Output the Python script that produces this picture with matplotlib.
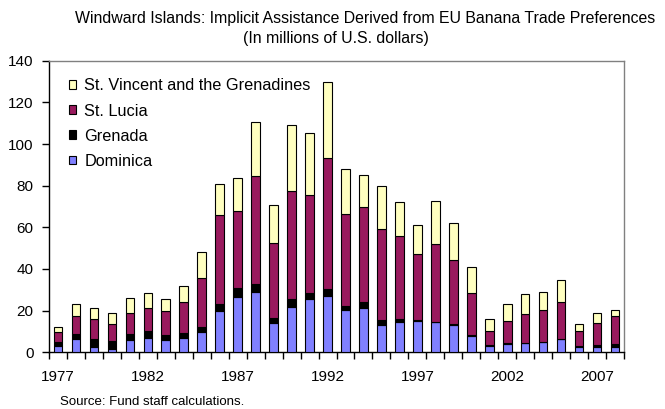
import matplotlib
matplotlib.use("Agg")
import matplotlib.pyplot as plt
from matplotlib.patches import Patch
from matplotlib.ticker import FixedLocator, NullFormatter
import numpy as np

plt.rcParams['font.family'] = ['Liberation Sans', 'DejaVu Sans']

years = list(range(1977, 2009))
dominica = [3.2, 6.2, 2.7, 1.7, 5.9, 7.0, 5.9, 7.0, 9.6, 19.7, 26.7, 28.8,
            13.9, 21.9, 25.4, 27.2, 20.5, 21.4, 13.3, 14.7, 15.2, 14.4,
            13.1, 7.7, 3.2, 4.0, 4.3, 4.8, 6.2, 2.4, 2.4, 2.5]
grenada = [1.9, 2.6, 3.5, 3.7, 2.7, 3.1, 2.4, 2.1, 2.7, 3.3, 4.0, 4.0,
           2.7, 3.5, 3.2, 3.2, 1.9, 2.7, 2.4, 1.1, 0.5, 0.3,
           0.3, 0.5, 0.3, 0.3, 0.2, 0.2, 0.2, 0.6, 1.0, 1.3]
st_lucia = [4.5, 8.8, 9.6, 8.0, 10.3, 11.2, 11.4, 14.9, 23.5, 42.8, 37.1, 52.0,
            35.7, 52.0, 46.9, 62.7, 44.0, 45.5, 43.3, 39.9, 31.5, 37.3,
            30.8, 20.1, 6.6, 10.9, 14.0, 15.3, 17.9, 7.1, 10.5, 13.5]
st_vincent = [2.7, 5.4, 5.3, 5.3, 7.2, 7.0, 5.7, 7.8, 12.5, 14.9, 15.9, 25.6,
              18.6, 31.6, 29.6, 36.5, 21.7, 15.4, 21.0, 16.5, 13.9, 20.5,
              17.9, 12.5, 5.9, 7.8, 9.3, 8.5, 10.6, 3.5, 5.0, 2.9]

series_names = ["Dominica", "Grenada", "St. Lucia", "St. Vincent and the Grenadines"]
series_values = [dominica, grenada, st_lucia, st_vincent]
colors = ["#8080FF", "#000000", "#991A5E", "#FFFFC0"]

W, H = 665, 409
fig = plt.figure(figsize=(W / 100, H / 100), dpi=100)
ax = fig.add_axes([49 / W, 1 - 352.3 / H, (624 - 49) / W, (352.3 - 60.7) / H])

x = np.arange(len(years))
bottom = np.zeros(len(years))
for name, vals, c in zip(series_names, series_values, colors):
    ax.bar(x, vals, width=0.48, bottom=bottom, color=c, edgecolor="black",
           linewidth=0.8, label=name, zorder=3)
    bottom += np.array(vals)

ax.set_xlim(-0.5, len(years) - 0.5)
ax.set_ylim(0, 140)
ax.set_yticks(range(0, 141, 20))

label_idx = [i for i, y in enumerate(years) if (y - 1977) % 5 == 0]
ax.set_xticks(label_idx)
ax.set_xticklabels([str(years[i]) for i in label_idx])
ax.xaxis.set_minor_locator(FixedLocator(np.arange(-0.5, len(years), 1.0)))
ax.xaxis.set_minor_formatter(NullFormatter())
ax.tick_params(axis="x", which="major", length=0, pad=13, labelsize=11)
ax.tick_params(axis="x", which="minor", length=5, width=1.0, direction="out")
ax.tick_params(axis="y", length=5, width=1.0, direction="out", pad=6, labelsize=11)

for side in ("top", "right"):
    ax.spines[side].set_color("#808080")
    ax.spines[side].set_linewidth(1.0)
for side in ("left", "bottom"):
    ax.spines[side].set_color("black")
    ax.spines[side].set_linewidth(1.0)

handles = [Patch(facecolor=c, edgecolor="black", linewidth=0.8)
           for c in colors][::-1]
labels = series_names[::-1]
ax.legend(handles, labels, loc="upper left",
          bbox_to_anchor=(69 / W, 1 - 78.5 / H), bbox_transform=fig.transFigure,
          frameon=False, fontsize=11.7, handlelength=0.45, handleheight=0.45,
          handletextpad=0.5, labelspacing=0.62, borderpad=0, borderaxespad=0)

fig.text(365 / W, 1 - 18 / H,
         "Windward Islands: Implicit Assistance Derived from EU Banana Trade Preferences",
         ha="center", va="center", fontsize=11.4)
fig.text(336 / W, 1 - 38 / H, "(In millions of U.S. dollars)",
         ha="center", va="center", fontsize=11.4)
fig.text(60 / W, 1 - 402 / H, "Source: Fund staff calculations.",
         ha="left", va="center", fontsize=9.5)

fig.savefig("out.png", dpi=100)
